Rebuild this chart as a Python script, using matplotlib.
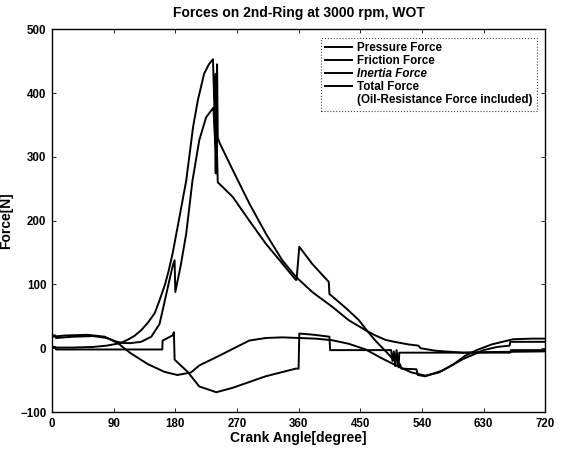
import matplotlib
matplotlib.use("Agg")
import matplotlib.pyplot as plt
from matplotlib.lines import Line2D

plt.rcParams['font.family'] = ['Liberation Sans', 'DejaVu Sans']
plt.rcParams['font.weight'] = 'bold'

# pressure force (angle, value)
p_ang = [0, 30, 60, 80, 100, 110, 120, 130, 140, 150, 157, 165, 170, 176, 186, 196, 206, 213, 222, 229, 235,
         237, 238, 239, 240, 241, 242, 245, 264, 288, 312, 336, 356, 380, 409, 433, 458, 472, 487, 500, 520,
         535, 538, 560, 600, 640, 720]
p_val = [1, 1, 2, 4, 8, 13, 19, 28, 40, 55, 75, 100, 120, 148, 205, 263, 347, 389, 430, 445, 453,
         380, 320, 430, 300, 445, 330, 321, 279, 227, 180, 138, 112, 88, 65, 44, 28, 20, 13, 10, 6,
         4, 0, -4, -7, -6, -5]

# friction force
f_ang = [0, 5, 6, 161, 161.5, 176, 178, 179, 198, 215, 240, 264, 312, 356, 360, 361, 383, 405, 406,
         495, 497, 499, 501, 503, 506, 507, 669, 670, 720]
f_val = [2, 2, -2, -2, 12, 20, 25, -18, -37, -60, -69, -62, -44, -32, -32, 23, 21, 18, -3,
         -3, -20, -5, -28, -3, -30, -7, -7, -3, -3]

# inertia force
i_ang = [0, 20, 52, 77, 96, 115, 140, 164, 183, 203, 215, 240, 264, 288, 312, 336, 361, 385, 409, 433,
         458, 480, 506, 525, 545, 565, 585, 603, 620, 642, 673, 700, 720]
i_val = [18, 20, 21, 18, 8, -8, -25, -37, -42, -38, -27, -14, -1, 12, 16, 17, 16, 15, 12.5, 7,
         -2, -15, -29, -38, -43, -38, -26, -12, -3, 6, 14, 15, 15]

# total force (oil resistance included)
t_ang = [0, 5, 6, 30, 60, 80, 95, 105, 115, 130, 145, 157, 164, 170, 176, 179, 180, 188, 196, 205, 215,
         225, 235.6, 238, 239, 240, 242, 247, 264, 288, 312, 336, 356, 357, 361, 380, 404, 405, 430,
         448, 458, 472, 490, 501, 503, 505, 508, 510, 532, 534, 545, 570, 600, 630, 650, 668, 669, 720]
t_val = [20, 20, 16, 18, 19, 16, 10, 8, 8, 10, 18, 38, 71, 100, 128, 138, 88, 130, 180, 262, 326,
         362, 377, 330, 274, 340, 260, 255, 237, 200, 164, 133, 107, 107, 159, 132, 104, 85, 62,
         44, 30, 12, -8, -21, -8, -28, -25, -32, -33, -42, -44, -35, -17, -3, 2, 4, 10, 10]

fig = plt.figure(figsize=(5.65, 4.53), dpi=100)
ax = fig.add_axes([0.092, 0.0905, 0.873, 0.845])

lw = 1.4
ax.plot(p_ang, p_val, color='black', lw=lw, label='Pressure Force')
ax.plot(f_ang, f_val, color='black', lw=lw, label='Friction Force')
ax.plot(i_ang, i_val, color='black', lw=lw, label='Inertia Force')
ax.plot(t_ang, t_val, color='black', lw=lw, label='Total Force')

ax.set_xlim(0, 720)
ax.set_ylim(-100, 500)
ax.set_xticks(range(0, 721, 90))
ax.set_yticks(range(-100, 501, 100))
ax.tick_params(direction='in', length=3, top=True, right=True, labelsize=8.3, width=0.6, pad=4)
for s in ax.spines.values():
    s.set_linewidth(1.0)

ax.set_title('Forces on 2nd-Ring at 3000 rpm, WOT', fontsize=10, fontweight='bold', pad=9)
ax.set_xlabel('Crank Angle[degree]', fontsize=10, fontweight='bold', labelpad=1)
ax.set_ylabel('Force[N]', fontsize=10, fontweight='bold', labelpad=5)

handles, labels = ax.get_legend_handles_labels()
handles.append(Line2D([], [], color='none'))
labels.append('(Oil-Resistance Force included)')
leg = ax.legend(handles, labels, loc='upper right', bbox_to_anchor=(0.995, 0.993), fontsize=8.4,
                handlelength=2.3, handletextpad=0.5, borderpad=0.35, labelspacing=0.1,
                fancybox=False, framealpha=1)
leg.get_frame().set_edgecolor('#444444')
leg.get_frame().set_linestyle(':')
leg.get_frame().set_linewidth(0.8)
for txt in leg.get_texts():
    if txt.get_text().startswith('Inertia'):
        txt.set_style('italic')

fig.savefig('out.png', dpi=100)
